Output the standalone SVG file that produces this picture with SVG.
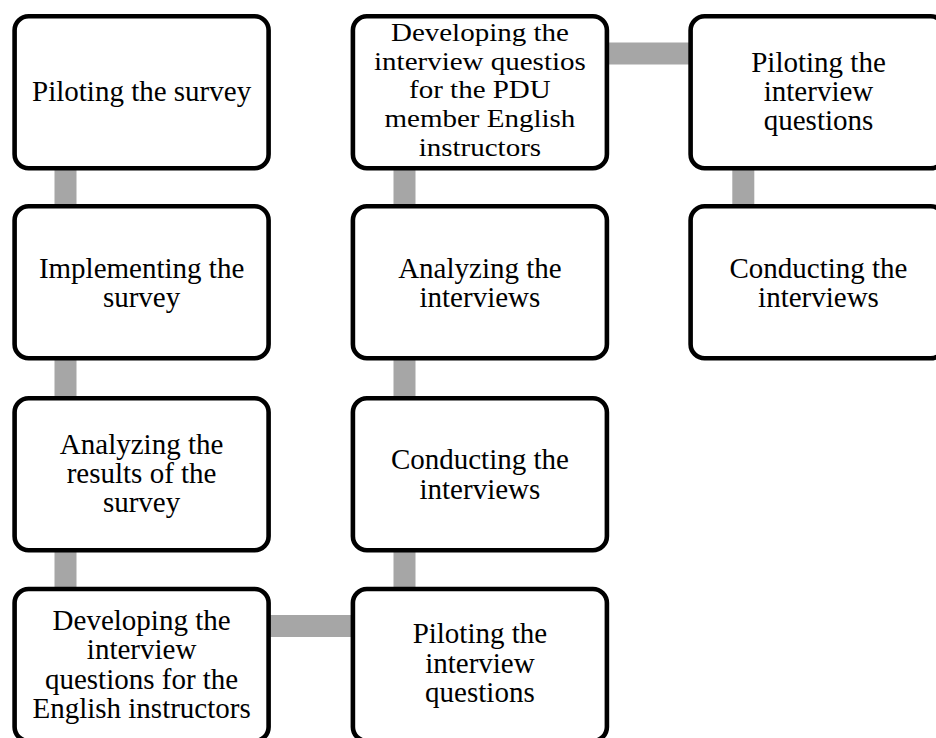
<svg xmlns="http://www.w3.org/2000/svg" width="936" height="738" viewBox="0 0 936 738">
<style>
.box{fill:#ffffff;stroke:#000000;stroke-width:4.6}
.conn{fill:#a6a6a6;stroke:none}
.t{font-family:"Liberation Serif","Times New Roman",serif;font-size:29px;fill:#000000;text-anchor:middle}
</style>
<rect x="0" y="0" width="936" height="738" fill="#ffffff"/>
<g id="connectors">
<rect class="conn" x="54.5" y="160" width="22" height="55"/>
<rect class="conn" x="54.5" y="350" width="22" height="55"/>
<rect class="conn" x="54.5" y="541" width="22" height="55"/>
<rect class="conn" x="260" y="615" width="100" height="22"/>
<rect class="conn" x="393.5" y="541" width="22" height="55"/>
<rect class="conn" x="393.5" y="350" width="22" height="55"/>
<rect class="conn" x="393.5" y="160" width="22" height="55"/>
<rect class="conn" x="598" y="42.5" width="100" height="22"/>
<rect class="conn" x="732.3" y="160" width="22" height="55"/>
</g>
<g id="node-piloting-survey">
<rect class="box" x="14.6" y="16.3" width="254" height="152" rx="14"/>
<text class="t" x="141.6" y="101">Piloting the survey</text>
</g>
<g id="node-implementing-survey">
<rect class="box" x="14.6" y="206.3" width="254" height="152" rx="14"/>
<text class="t" x="141.6" y="277.5">Implementing the</text>
<text class="t" x="141.6" y="307">survey</text>
</g>
<g id="node-analyzing-results">
<rect class="box" x="14.6" y="398.3" width="254" height="152" rx="14"/>
<text class="t" x="141.6" y="453.5">Analyzing the</text>
<text class="t" x="141.6" y="483">results of the</text>
<text class="t" x="141.6" y="512">survey</text>
</g>
<g id="node-developing-english">
<rect class="box" x="14.6" y="589" width="254" height="152" rx="14"/>
<text class="t" x="141.6" y="630">Developing the</text>
<text class="t" x="141.6" y="659">interview</text>
<text class="t" x="141.6" y="688.5">questions for the</text>
<text class="t" x="141.6" y="717.5">English instructors</text>
</g>
<g id="node-piloting-interview-1">
<rect class="box" x="352.9" y="589" width="254" height="152" rx="14"/>
<text class="t" x="479.9" y="643">Piloting the</text>
<text class="t" x="479.9" y="672.5">interview</text>
<text class="t" x="479.9" y="702">questions</text>
</g>
<g id="node-conducting-interviews-1">
<rect class="box" x="352.9" y="398.3" width="254" height="152" rx="14"/>
<text class="t" x="479.9" y="469">Conducting the</text>
<text class="t" x="479.9" y="498.5">interviews</text>
</g>
<g id="node-analyzing-interviews">
<rect class="box" x="352.9" y="206.3" width="254" height="152" rx="14"/>
<text class="t" x="479.9" y="277.5">Analyzing the</text>
<text class="t" x="479.9" y="307">interviews</text>
</g>
<g id="node-developing-pdu">
<rect class="box" x="352.9" y="16.3" width="254" height="152" rx="14"/>
<g transform="translate(479.9,0) scale(1,0.84)">
<text class="t" x="0" y="48.8">Developing the</text>
<text class="t" x="0" y="83">interview questios</text>
<text class="t" x="0" y="117.1">for the PDU</text>
<text class="t" x="0" y="151.3">member English</text>
<text class="t" x="0" y="185.5">instructors</text>
</g>
</g>
<g id="node-piloting-interview-2">
<rect class="box" x="690.6" y="16.3" width="254" height="152" rx="14"/>
<text class="t" x="818.5" y="71.5">Piloting the</text>
<text class="t" x="818.5" y="100.5">interview</text>
<text class="t" x="818.5" y="129.5">questions</text>
</g>
<g id="node-conducting-interviews-2">
<rect class="box" x="690.6" y="206.3" width="254" height="152" rx="14"/>
<text class="t" x="818.5" y="277.5">Conducting the</text>
<text class="t" x="818.5" y="307">interviews</text>
</g>
</svg>
